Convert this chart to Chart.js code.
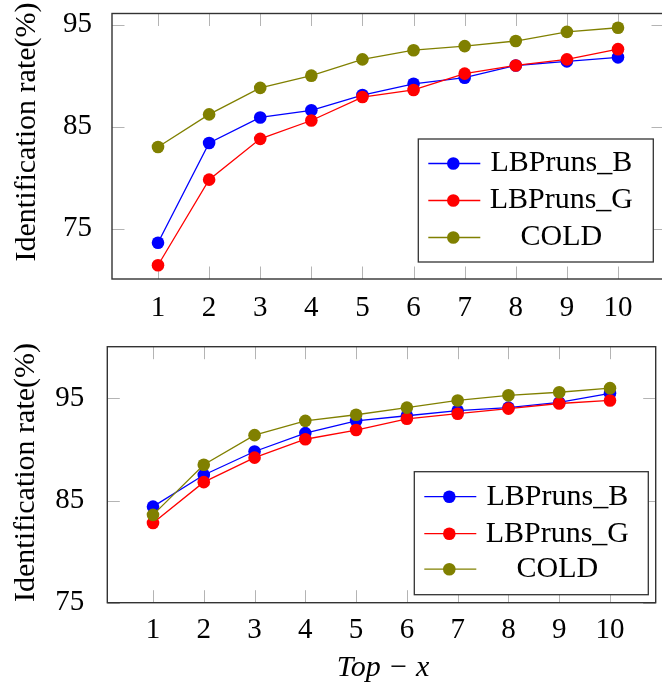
<!DOCTYPE html>
<html>
<head>
<meta charset="utf-8">
<script src="https://cdn.jsdelivr.net/npm/chart.js@4/dist/chart.umd.min.js"></script>
<style>
  html, body { margin: 0; padding: 0; background: #fff; overflow: hidden; width: 662px; height: 687px; }
  .panel { position: absolute; left: 0; }
  #topPanel { top: 0; width: 680px; height: 335px; }
  #bottomPanel { top: 335px; width: 662px; height: 352px; }
</style>
</head>
<body>
<div class="panel" id="topPanel"><canvas id="topChart"></canvas></div>
<div class="panel" id="bottomPanel"><canvas id="bottomChart"></canvas></div>
<script>
// ── data ──
const RANKS = [1, 2, 3, 4, 5, 6, 7, 8, 9, 10];
const SERIES_LABELS = ['LBPruns_B', 'LBPruns_G', 'COLD'];
const Y_TICKS = [75, 85, 95];

const TOP_B    = [73.6, 83.4, 85.9, 86.6, 88.1, 89.2, 89.8, 91.0, 91.4, 91.8];
const TOP_G    = [71.4, 79.8, 83.8, 85.6, 87.9, 88.6, 90.2, 91.0, 91.6, 92.6];
const TOP_COLD = [83.0, 86.2, 88.8, 90.0, 91.6, 92.5, 92.9, 93.4, 94.3, 94.7];

const BOT_B    = [84.4, 87.5, 89.8, 91.6, 92.8, 93.3, 93.8, 94.1, 94.6, 95.5];
const BOT_G    = [82.8, 86.8, 89.2, 91.0, 91.9, 93.0, 93.5, 94.0, 94.5, 94.8];
const BOT_COLD = [83.6, 88.5, 91.4, 92.8, 93.4, 94.1, 94.8, 95.3, 95.6, 96.0];

const COLORS = ['#0000ff', '#ff0000', '#808000'];
const FONT = '"Liberation Serif", "Times New Roman", serif';

// pgfplots-style box: grey inward ticks on all four sides + dark frame
const pgfFrame = {
  id: 'pgfFrame',
  beforeDatasetsDraw(chart) {
    const { ctx, chartArea: a, scales: { x, y } } = chart;
    const len = 12.5;
    ctx.save();
    ctx.strokeStyle = '#b4b4b4';
    ctx.lineWidth = 1;
    ctx.beginPath();
    x.ticks.forEach(t => {
      const px = Math.round(x.getPixelForValue(t.value)) + 0.5;
      ctx.moveTo(px, a.bottom); ctx.lineTo(px, a.bottom - len);
      ctx.moveTo(px, a.top); ctx.lineTo(px, a.top + len);
    });
    y.ticks.forEach(t => {
      const py = Math.round(y.getPixelForValue(t.value)) + 0.5;
      ctx.moveTo(a.left, py); ctx.lineTo(a.left + len, py);
      ctx.moveTo(a.right, py); ctx.lineTo(a.right - len, py);
    });
    ctx.stroke();
    ctx.strokeStyle = '#333';
    ctx.lineWidth = 1.4;
    ctx.strokeRect(a.left, a.top, a.width, a.height);
    ctx.restore();
  }
};

// boxed legend with centered labels, like the pgfplots one
const boxLegend = {
  id: 'boxLegend',
  afterDatasetsDraw(chart, args, opts) {
    const { ctx } = chart;
    const { left, top, width, height, rows } = opts;
    ctx.save();
    ctx.fillStyle = '#fff';
    ctx.fillRect(left, top, width, height);
    ctx.strokeStyle = '#333';
    ctx.lineWidth = 1.3;
    ctx.strokeRect(left, top, width, height);
    ctx.font = '30px ' + FONT;
    ctx.textAlign = 'center';
    ctx.textBaseline = 'middle';
    chart.data.datasets.forEach((ds, i) => {
      const y = top + rows[i];
      ctx.strokeStyle = ds.borderColor;
      ctx.lineWidth = 1.3;
      ctx.beginPath();
      ctx.moveTo(left + 10, y);
      ctx.lineTo(left + 62, y);
      ctx.stroke();
      ctx.fillStyle = ds.backgroundColor;
      ctx.beginPath();
      ctx.arc(left + 35, y, 6.3, 0, Math.PI * 2);
      ctx.fill();
      ctx.fillStyle = '#000';
      ctx.fillText(ds.label, left + 143, y);
    });
    ctx.restore();
  }
};

// axis titles at fixed spots
const axisTitles = {
  id: 'axisTitles',
  afterDraw(chart, args, opts) {
    const { ctx } = chart;
    ctx.save();
    ctx.fillStyle = '#000';
    ctx.textAlign = 'center';
    ctx.textBaseline = 'alphabetic';
    if (opts.y) {
      ctx.font = '30px ' + FONT;
      ctx.translate(opts.y.x, opts.y.y);
      ctx.rotate(-Math.PI / 2);
      ctx.fillText(opts.y.text, 0, 0);
      ctx.setTransform(1, 0, 0, 1, 0, 0);
    }
    if (opts.x) {
      ctx.font = 'italic 30px ' + FONT;
      ctx.fillText(opts.x.text, opts.x.x, opts.x.y);
    }
    ctx.restore();
  }
};

function buildDatasets(seriesList) {
  return seriesList.map((vals, i) => ({
    label: SERIES_LABELS[i],
    data: RANKS.map((r, k) => ({ x: r, y: vals[k] })),
    borderColor: COLORS[i],
    backgroundColor: COLORS[i],
    borderWidth: 1.3,
    pointRadius: 6.3,
    pointBorderWidth: 0,
    pointHoverRadius: 6.3,
    tension: 0,
    clip: false,
    order: 2 - i,
  }));
}

function makeChart(canvas, seriesList, cfg) {
  return new Chart(canvas, {
    type: 'line',
    data: { datasets: buildDatasets(seriesList) },
    plugins: [pgfFrame, boxLegend, axisTitles],
    options: {
      responsive: true,
      maintainAspectRatio: false,
      animation: false,
      events: [],
      layout: { padding: { left: 0, top: cfg.padTop, right: cfg.padRight, bottom: 0 } },
      scales: {
        x: {
          type: 'linear',
          min: 0.1,
          max: 10.9,
          afterBuildTicks: s => { s.ticks = RANKS.map(v => ({ value: v })); },
          afterFit: s => { s.height = cfg.xHeight; s.paddingLeft = 0; s.paddingRight = 0; },
          grid: { display: false },
          border: { display: false },
          ticks: { color: '#000', padding: cfg.xPad, maxRotation: 0, autoSkip: false,
                   font: { family: FONT, size: 29, lineHeight: 1.2 } },
        },
        y: {
          min: cfg.yMin,
          max: cfg.yMax,
          afterBuildTicks: s => { s.ticks = Y_TICKS.map(v => ({ value: v })); },
          afterFit: s => { s.width = cfg.yWidth; s.paddingTop = 0; s.paddingBottom = 0; },
          grid: { display: false },
          border: { display: false },
          ticks: { color: '#000', padding: cfg.yPad,
                   font: { family: FONT, size: 29, lineHeight: 1.2 } },
        },
      },
      plugins: {
        legend: { display: false },
        tooltip: { enabled: false },
        boxLegend: cfg.legend,
        axisTitles: cfg.titles,
      },
    },
  });
}

makeChart(document.getElementById('topChart'), [TOP_B, TOP_G, TOP_COLD], {
  padTop: 13.5, padRight: 16, xHeight: 56, yWidth: 112,
  xPad: 4, yPad: 12, yMin: 70.05, yMax: 96.1,
  legend: { left: 418.3, top: 139, width: 235, height: 123, rows: [24.5, 61.5, 98.5] },
  titles: { y: { text: 'Identification rate(%)', x: 35, y: 132 } },
});

makeChart(document.getElementById('bottomChart'), [BOT_B, BOT_G, BOT_COLD], {
  padTop: 11.7, padRight: 2.7, xHeight: 84.3, yWidth: 107.3,
  xPad: 2.4, yPad: 15, yMin: 75, yMax: 100.06,
  legend: { left: 414.3, top: 136.7, width: 234, height: 123, rows: [25, 62, 97.5] },
  titles: {
    y: { text: 'Identification rate(%)', x: 34, y: 137.5 },
    x: { text: 'Top \u2212 x', x: 383, y: 341 },
  },
});
</script>
</body>
</html>
